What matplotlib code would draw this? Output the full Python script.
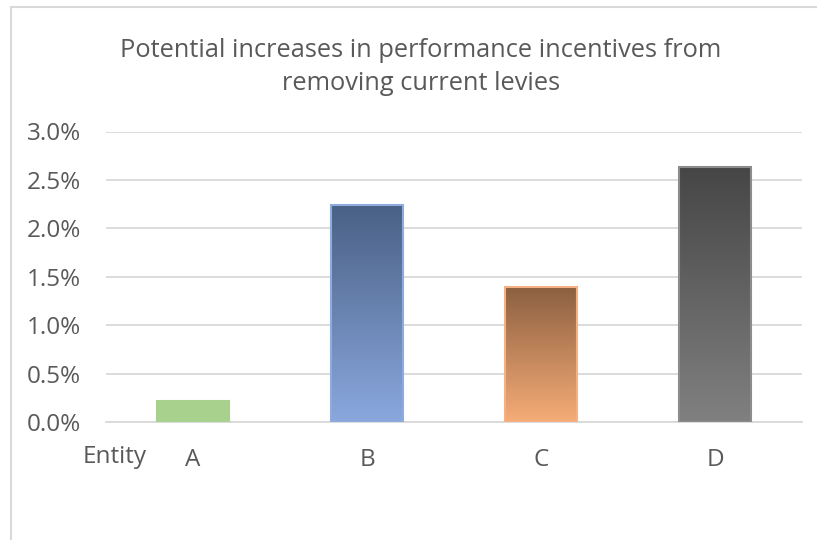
import numpy as np
import matplotlib.pyplot as plt
from matplotlib.colors import LinearSegmentedColormap
from matplotlib.lines import Line2D

# data
entities = ["A", "B", "C", "D"]
values = [0.0022, 0.0224, 0.0139, 0.0263]
y_ticks = [0.0, 0.005, 0.010, 0.015, 0.020, 0.025, 0.030]
y_labels = ["0.0%", "0.5%", "1.0%", "1.5%", "2.0%", "2.5%", "3.0%"]

# (top colour, bottom colour, edge colour)
bar_styles = [
    ("#A9D18E", "#A9D18E", "#A9D18E"),
    ("#4A6085", "#8AA8DE", "#8FAADC"),
    ("#8C6040", "#F6AC78", "#F4B183"),
    ("#464646", "#808080", "#8C8C8C"),
]

plt.rcParams['font.family'] = ['Open Sans', 'DejaVu Sans']
text_color = "#595959"
grid_color = "#D9D9D9"

fig = plt.figure(figsize=(8.17, 5.4), dpi=100)
ax = fig.add_axes([106 / 817, 1 - 422 / 540, (802 - 106) / 817, (422 - 131.5) / 540])

x = np.arange(len(entities))
width = 0.41
grad = np.linspace(1, 0, 256).reshape(-1, 1)

for xi, v, (top, bottom, edge) in zip(x, values, bar_styles):
    cmap = LinearSegmentedColormap.from_list("g", [bottom, top])
    ax.imshow(grad, cmap=cmap, aspect='auto', vmin=0, vmax=1,
              extent=[xi - width / 2, xi + width / 2, 0, v], zorder=3)
    ax.bar(xi, v, width, facecolor='none', edgecolor=edge, linewidth=1.5, zorder=4)

ax.set_xlim(-0.5, len(entities) - 0.5)
ax.set_ylim(0, 0.03)
ax.set_yticks(y_ticks)
ax.set_yticklabels(y_labels)
ax.set_xticks(x)
ax.set_xticklabels(entities)

ax.grid(axis='y', color=grid_color, linewidth=1.3, zorder=0)
ax.set_axisbelow(True)
for s in ["top", "right", "left"]:
    ax.spines[s].set_visible(False)
ax.spines["bottom"].set_color(grid_color)
ax.spines["bottom"].set_linewidth(1.3)
ax.tick_params(axis='both', length=0, labelsize=17.5, labelcolor=text_color)
ax.tick_params(axis='y', pad=18)
ax.tick_params(axis='x', pad=19)

fig.text(83 / 817, 1 - 457 / 540, "Entity", ha='left', va='center',
         fontsize=17.5, color=text_color)

fig.text(421 / 817, 1 - 67 / 540,
         "Potential increases in performance incentives from\nremoving current levies",
         ha='center', va='center', fontsize=18.3, color=text_color, linespacing=1.45)

# chart border (top and left visible)
fig.add_artist(Line2D([11 / 817, 1], [1 - 7 / 540, 1 - 7 / 540], color=grid_color, linewidth=1.5))
fig.add_artist(Line2D([11 / 817, 11 / 817], [0, 1 - 7 / 540], color=grid_color, linewidth=1.5))

fig.savefig("out.png", dpi=100)
